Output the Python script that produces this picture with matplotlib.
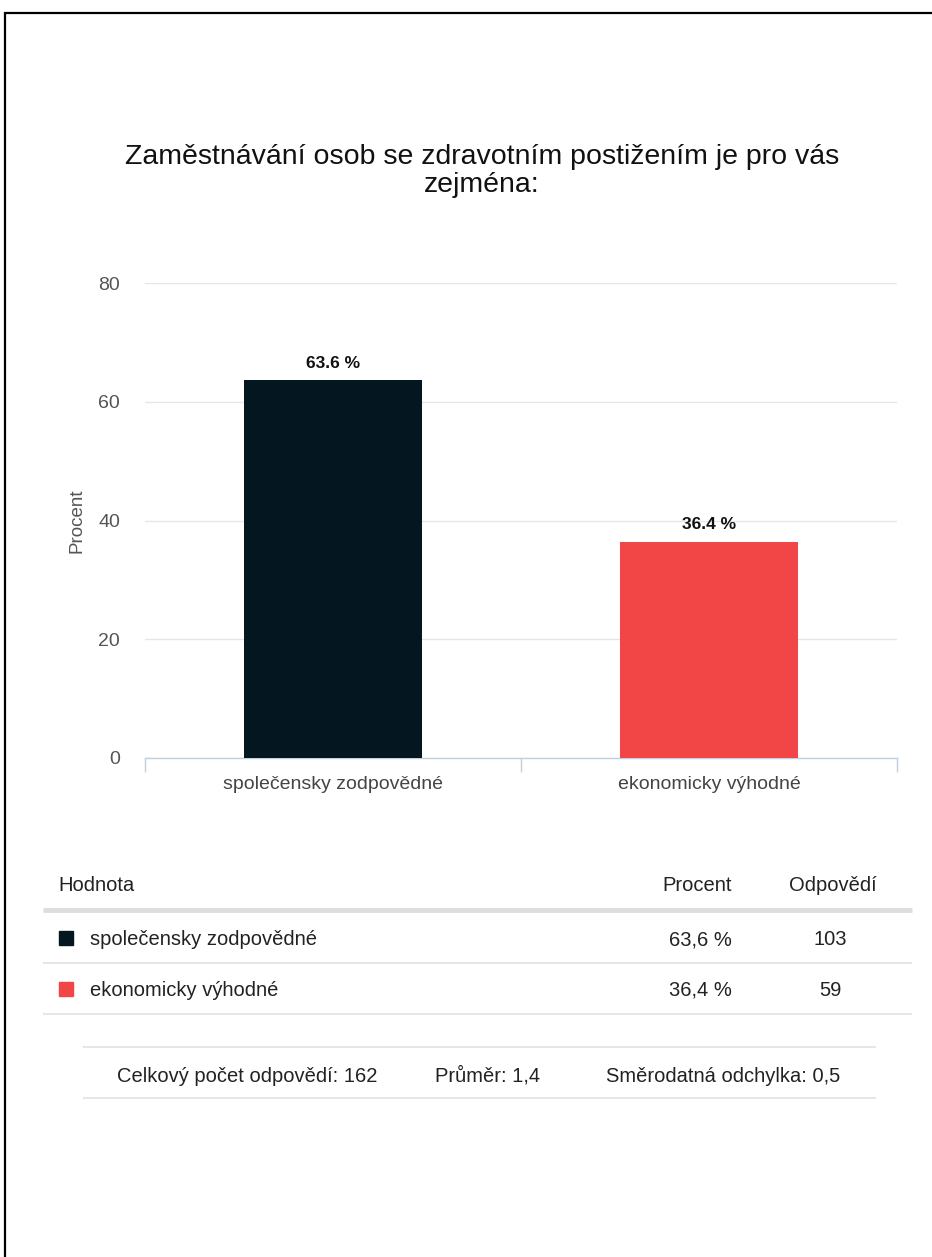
import matplotlib.pyplot as plt
from matplotlib.lines import Line2D
from matplotlib.patches import Rectangle

plt.rcParams['font.family'] = ['Liberation Sans', 'DejaVu Sans']

title = "Zaměstnávání osob se zdravotním postižením je pro vás\nzejména:"
categories = ["společensky zodpovědné", "ekonomicky výhodné"]
percent = [63.6, 36.4]
counts = [103, 59]
bar_colors = ["#041721", "#F24545"]
y_ticks = [0, 20, 40, 60, 80]
total = 162
mean = 1.4
std_dev = 0.5

W, H = 932, 1257
fig = plt.figure(figsize=(W / 100, H / 100), dpi=100)


def fx(x):
    return x / W


def fy(y):
    return 1 - y / H


def hline(x0, x1, y, color, lw):
    fig.add_artist(Line2D([fx(x0), fx(x1)], [fy(y), fy(y)], color=color, lw=lw,
                          transform=fig.transFigure, solid_capstyle='butt'))


def label(x, y, s, ha="left"):
    # y is the text's visual middle; place by baseline so rows line up
    fig.text(fx(x), fy(y + 7), s, ha=ha, va="baseline", fontsize=14.5, color="#222222")


# page frame (top and left edges)
fig.add_artist(Line2D([fx(4), fx(W)], [fy(12.5), fy(12.5)], color="black", lw=1.6,
                      transform=fig.transFigure, solid_capstyle='butt'))
fig.add_artist(Line2D([fx(5), fx(5)], [fy(12), fy(H)], color="black", lw=1.6,
                      transform=fig.transFigure, solid_capstyle='butt'))

fig.text(fx(482), fy(171), title, ha="center", va="center", fontsize=20.5,
         color="#111111", linespacing=1.1)

# bar chart
ax = fig.add_axes([fx(145), fy(758), fx(897) - fx(145), fy(283) - fy(758)])
x = list(range(len(categories)))
bars = ax.bar(x, percent, width=0.476, color=bar_colors, zorder=3)
for b, p in zip(bars, percent):
    ax.annotate(f"{p:.1f} %", (b.get_x() + b.get_width() / 2, b.get_height()),
                xytext=(0, 7), textcoords="offset points", ha="center", va="bottom",
                fontsize=12.5, fontweight="bold", color="#111111")

ax.set_xlim(-0.5, len(categories) - 0.5)
ax.set_ylim(0, 80)
ax.set_yticks(y_ticks)
ax.set_yticklabels([str(t) for t in y_ticks], fontsize=14, color="#555555")
ax.tick_params(axis="y", length=0, pad=18)
ax.grid(axis="y", color="#e6e6e6", lw=1.0, zorder=0)
ax.set_ylabel("Procent", fontsize=13.5, color="#555555", labelpad=9)

ax.set_xticks([i - 0.5 for i in range(len(categories) + 1)])
ax.set_xticklabels([])
ax.tick_params(axis="x", which="major", length=10, width=1, color="#C0D0E0")
ax.set_xticks(x, minor=True)
ax.set_xticklabels(categories, minor=True, fontsize=14, color="#444444")
ax.tick_params(axis="x", which="minor", length=0, pad=13)

for s in ["top", "right", "left"]:
    ax.spines[s].set_visible(False)
ax.spines["bottom"].set_color("#C0D0E0")
ax.spines["bottom"].set_linewidth(1.0)
ax.set_facecolor("none")

# results table
label(58, 884, "Hodnota")
label(732, 884, "Procent", ha="right")
label(833, 884, "Odpovědí", ha="center")
hline(43, 912, 910, "#dddddd", 3.5)

row_y = [938, 989]
for cat, p, n, c, ry in zip(categories, percent, counts, bar_colors, row_y):
    fig.add_artist(Rectangle((fx(59), fy(ry + 7)), fx(73) - fx(59), fy(ry - 7) - fy(ry + 7),
                             color=c, transform=fig.transFigure))
    label(90, ry, cat)
    label(732, ry, f"{p:.1f}".replace(".", ",") + " %", ha="right")
    label(830, ry, str(n), ha="center")
    hline(43, 912, ry + 24.5, "#e2e2e2", 1.2)

# summary line
hline(83, 876, 1047, "#e2e2e2", 1.2)
hline(83, 876, 1098, "#e2e2e2", 1.2)
label(117, 1075, f"Celkový počet odpovědí: {total}")
label(435, 1075, f"Průměr: {mean:.1f}".replace(".", ","))
label(606, 1075, f"Směrodatná odchylka: {std_dev:.1f}".replace(".", ","))

fig.savefig("out.png", dpi=100, facecolor="white")
